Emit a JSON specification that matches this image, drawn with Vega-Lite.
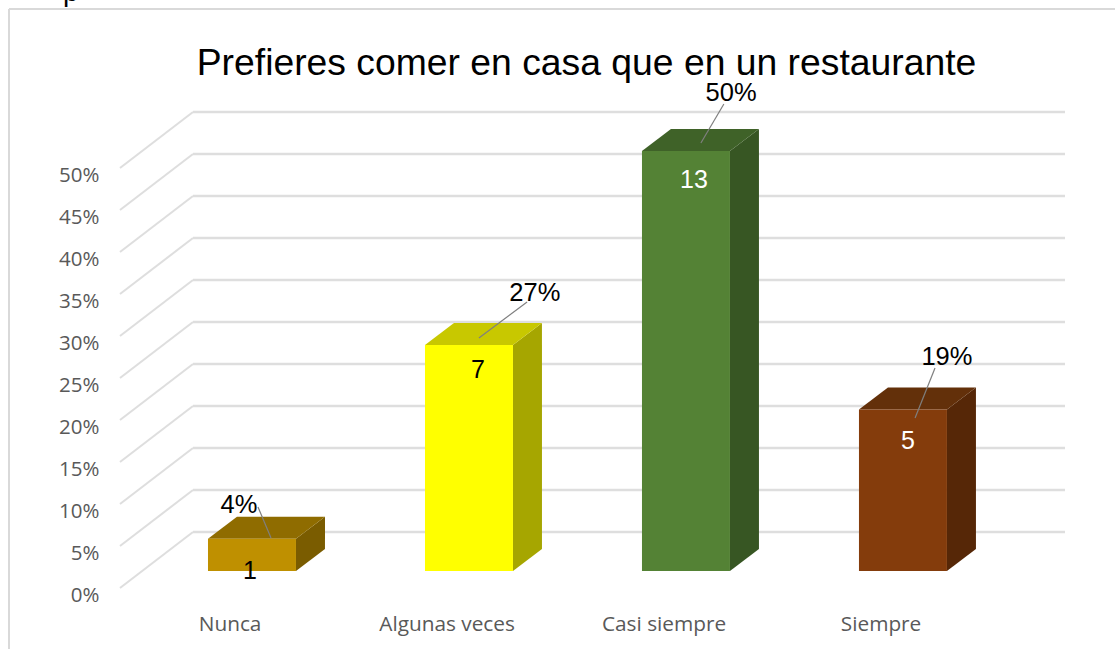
{
"$schema":"https://vega.github.io/schema/vega-lite/v6.json",
"width":945,"height":510,
"autosize":{"type":"none"},
"padding":{"left":120,"right":50,"top":100,"bottom":39},
"background":"white",
"title":{"text":"Prefieres comer en casa que en un restaurante","font":"Liberation Sans","fontSize":37.3,"fontWeight":"normal","color":"#000000","anchor":"middle","dx":-6,"offset":-104},
"config":{"view":{"stroke":null}},
"datasets":{
"respuestas":[
{"categoria":"Nunca","orden":0,"n":1,"pct":3.85},
{"categoria":"Algunas veces","orden":1,"n":7,"pct":26.92},
{"categoria":"Casi siempre","orden":2,"n":13,"pct":50},
{"categoria":"Siempre","orden":3,"n":5,"pct":19.23}
],
"escala":[{"p":0},{"p":5},{"p":10},{"p":15},{"p":20},{"p":25},{"p":30},{"p":35},{"p":40},{"p":45},{"p":50}]
},
"resolve":{"scale":{"color":"independent"}},
"layer":[
{"data":{"name":"escala"},
"mark":{"type":"rule","color":"#DEDEDE","strokeWidth":2,"clip":false},
"transform":[{"calculate":"datum.p+6.667","as":"fondo"}],
"encoding":{
"x":{"datum":0,"type":"quantitative","scale":{"domain":[0,4.355],"nice":false,"zero":false},
"axis":{"values":[0.505,1.505,2.505,3.505],"labelExpr":"['Nunca','Algunas veces','Casi siempre','Siempre'][floor(datum.value)]","domain":false,"ticks":false,"grid":false,"title":null,"labelFont":"Open Sans","labelFontSize":20.8,"labelColor":"#595959","labelPadding":4}},
"x2":{"datum":0.3364},
"y":{"field":"p","type":"quantitative","scale":{"domain":[-2.619,58.095],"nice":false,"zero":false},
"axis":{"values":[0,5,10,15,20,25,30,35,40,45,50],"labelExpr":"datum.value+'%'","labelOffset":7.5,"domain":false,"ticks":false,"grid":false,"title":null,"labelFont":"Open Sans","labelFontSize":20.5,"labelColor":"#595959","labelPadding":21}},
"y2":{"field":"fondo"}
}},
{"data":{"name":"escala"},
"mark":{"type":"rule","color":"#DEDEDE","strokeWidth":2.5},
"transform":[{"calculate":"datum.p+6.667","as":"fondo"}],
"encoding":{"x":{"datum":0.3364,"type":"quantitative"},"x2":{"datum":4.355},"y":{"field":"fondo","type":"quantitative"}}},
{"data":{"values":[{"marco":"izquierda"}]},
"mark":{"type":"rule","color":"#D9D9D9","strokeWidth":2,"clip":false},
"encoding":{"x":{"datum":-0.5115,"type":"quantitative"},"y":{"datum":68.93,"type":"quantitative"},"y2":{"datum":-8}}},
{"data":{"values":[{"marco":"arriba"}]},
"mark":{"type":"rule","color":"#D9D9D9","strokeWidth":2,"clip":false},
"encoding":{"x":{"datum":-0.5115,"type":"quantitative"},"x2":{"datum":4.7},"y":{"datum":68.93,"type":"quantitative"}}},
{"data":{"values":[{"texto":"p"}]},
"mark":{"type":"text","font":"Liberation Sans","fontSize":28,"align":"left","baseline":"alphabetic","color":"#000000","clip":false},
"encoding":{"x":{"datum":-0.263,"type":"quantitative"},"y":{"datum":69.9,"type":"quantitative"},"text":{"field":"texto"}}},
{"data":{"name":"respuestas"},
"mark":{"type":"area","line":false,"orient":"vertical"},
"transform":[
{"calculate":"datum.orden+0.811","as":"delante"},
{"calculate":"datum.orden+0.9446","as":"atras"},
{"fold":["delante","atras"],"as":["cara","xv"]},
{"calculate":"datum.cara=='delante'?2.02:4.64","as":"base"},
{"calculate":"datum.base+datum.pct","as":"techo"}],
"encoding":{
"x":{"field":"xv","type":"quantitative"},
"y":{"field":"techo","type":"quantitative","stack":null},
"y2":{"field":"base"},
"detail":{"field":"categoria"},
"color":{"field":"categoria","type":"nominal","legend":null,"scale":{"domain":["Nunca","Algunas veces","Casi siempre","Siempre"],"range":["#7A5C00","#A6A600","#375623","#562707"]}}}},
{"data":{"name":"respuestas"},
"mark":{"type":"area","line":false,"orient":"horizontal"},
"transform":[
{"calculate":"datum.orden+0.4055","as":"delante"},
{"calculate":"datum.orden+0.5391","as":"atras"},
{"fold":["delante","atras"],"as":["cara","xi"]},
{"calculate":"datum.xi+0.4055","as":"xd"},
{"calculate":"(datum.cara=='delante'?2.02:4.64)+datum.pct","as":"nivel"}],
"encoding":{
"y":{"field":"nivel","type":"quantitative"},
"x":{"field":"xi","type":"quantitative","stack":null},
"x2":{"field":"xd"},
"detail":{"field":"categoria"},
"color":{"field":"categoria","type":"nominal","legend":null,"scale":{"domain":["Nunca","Algunas veces","Casi siempre","Siempre"],"range":["#8F6C00","#C8C800","#3F6228","#63300A"]}}}},
{"data":{"name":"respuestas"},
"mark":{"type":"rect"},
"transform":[
{"calculate":"datum.orden+0.4055","as":"xi"},
{"calculate":"datum.orden+0.811","as":"xd"},
{"calculate":"datum.pct+2.02","as":"techo"},
{"calculate":"2.02","as":"base"}],
"encoding":{
"x":{"field":"xi","type":"quantitative"},
"x2":{"field":"xd"},
"y":{"field":"techo","type":"quantitative"},
"y2":{"field":"base"},
"color":{"field":"categoria","type":"nominal","legend":null,"scale":{"domain":["Nunca","Algunas veces","Casi siempre","Siempre"],"range":["#BF9000","#FFFF00","#548235","#843C0C"]}}}},
{"data":{"name":"respuestas"},
"mark":{"type":"rule","color":"#7F7F7F","strokeWidth":1.2},
"transform":[
{"calculate":"[0.636,1.876,2.783,3.756][datum.orden]","as":"xa"},
{"calculate":"[9.64,34.05,57.62,26.19][datum.orden]","as":"ya"},
{"calculate":"[0.696,1.654,2.677,3.664][datum.orden]","as":"xb"},
{"calculate":"[5.95,29.76,52.98,20.24][datum.orden]","as":"yb"}],
"encoding":{"x":{"field":"xa","type":"quantitative"},"x2":{"field":"xb"},"y":{"field":"ya","type":"quantitative"},"y2":{"field":"yb"}}},
{"data":{"name":"respuestas"},
"mark":{"type":"text","font":"Liberation Sans","fontSize":25.5,"color":"#000000","baseline":"middle","align":"center","dy":1},
"transform":[
{"calculate":"format(datum.pct/100,'.0%')","as":"etiqueta"},
{"calculate":"[0.548,1.912,2.816,3.811][datum.orden]","as":"xt"},
{"calculate":"[10,35.24,59.05,27.62][datum.orden]","as":"yt"}],
"encoding":{"x":{"field":"xt","type":"quantitative"},"y":{"field":"yt","type":"quantitative"},"text":{"field":"etiqueta"}}},
{"data":{"name":"respuestas"},
"mark":{"type":"text","font":"Liberation Sans","fontSize":25,"baseline":"middle","align":"center","dy":1},
"transform":[
{"calculate":"[0.599,1.65,2.645,3.631][datum.orden]","as":"xt"},
{"calculate":"[2.14,26.07,48.69,17.62][datum.orden]","as":"yt"}],
"encoding":{"x":{"field":"xt","type":"quantitative"},"y":{"field":"yt","type":"quantitative"},"text":{"field":"n","type":"quantitative"},
"color":{"field":"categoria","type":"nominal","legend":null,"scale":{"domain":["Nunca","Algunas veces","Casi siempre","Siempre"],"range":["#000000","#000000","#FFFFFF","#FFFFFF"]}}}}
]
}
